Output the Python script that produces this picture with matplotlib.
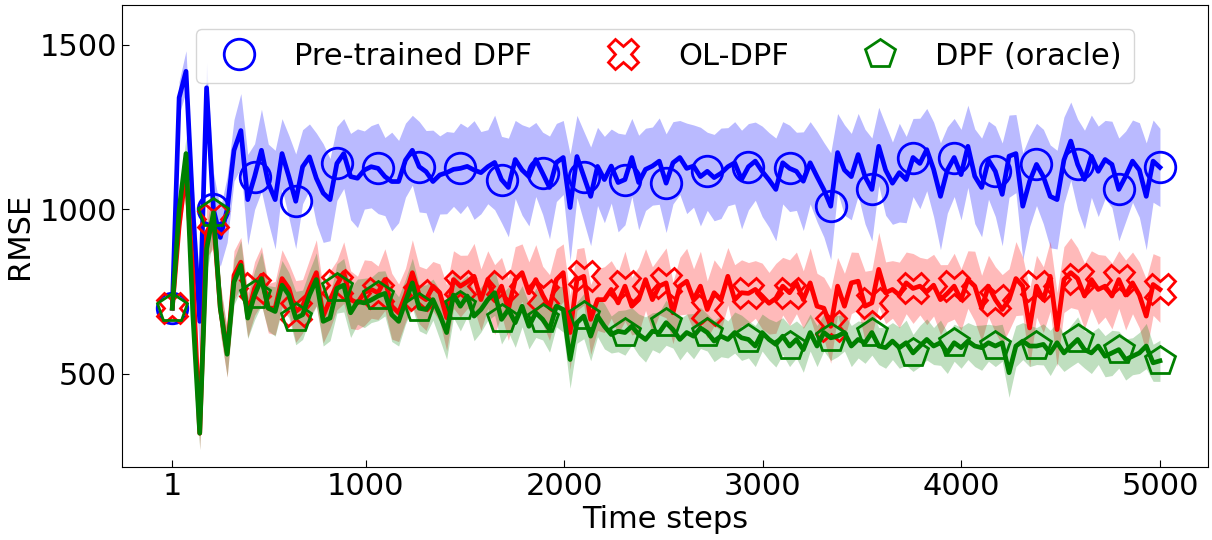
import numpy as np
import matplotlib
matplotlib.use('Agg')
import matplotlib.pyplot as plt
from matplotlib.lines import Line2D

# one logged value every ~35 steps, first point is shown as step "1"
time_steps = np.linspace(26, 5000, 145)

pretrained_mean = [
    700, 1340, 1420, 1000, 660, 1370, 1000, 915, 1000, 1180,
    1240, 1030, 1100, 1180, 1080, 1030, 1170, 1100, 1025, 1130,
    1160, 1095, 1050, 1030, 1140, 1170, 1100, 1095, 1120, 1130,
    1125, 1100, 1085, 1085, 1150, 1180, 1130, 1115, 1085, 1105,
    1112, 1122, 1125, 1131, 1120, 1112, 1130, 1143, 1091, 1067,
    1152, 1120, 1100, 1152, 1110, 1067, 1143, 1158, 1006, 1161,
    1100, 1040, 1131, 1091, 1132, 1082, 1091, 1158, 1082, 1122,
    1132, 1147, 1080, 1142, 1158, 1125, 1132, 1100, 1116, 1097,
    1110, 1130, 1142, 1091, 1130, 1147, 1116, 1090, 1061, 1142,
    1125, 1116, 1086, 1142, 1100, 1060, 1010, 1173, 1120, 1100,
    1167, 1100, 1061, 1192, 1120, 1080, 1112, 1091, 1158, 1140,
    1182, 1122, 1040, 1120, 1158, 1106, 1192, 1101, 1067, 1150,
    1116, 1046, 1162, 1170, 1010, 1086, 1137, 1100, 1040, 1030,
    1150, 1208, 1137, 1091, 1162, 1116, 1152, 1137, 1061, 1101,
    1147, 1120, 1040, 1147, 1128,
]
pretrained_err = [
    10, 40, 50, 70, 90, 60, 90, 70, 80, 75,
    90, 110, 80, 100, 95, 120, 85, 100, 115, 90,
    80, 110, 120, 100, 90, 85, 105, 120, 95, 100,
    110, 95, 120, 100, 90, 85, 110, 100, 125, 95,
    100, 90, 110, 95, 120, 100, 90, 115, 105, 120,
    95, 110, 120, 90, 100, 125, 95, 90, 130, 100,
    110, 120, 95, 105, 90, 120, 110, 95, 115, 100,
    95, 105, 120, 100, 90, 110, 100, 120, 95, 105,
    110, 95, 100, 120, 105, 95, 110, 115, 125, 100,
    105, 95, 120, 100, 110, 115, 130, 95, 110, 105,
    100, 115, 125, 95, 110, 100, 120, 105, 95, 110,
    100, 115, 130, 105, 95, 110, 100, 115, 120, 95,
    110, 125, 100, 95, 130, 110, 100, 115, 125, 120,
    105, 95, 110, 120, 100, 110, 95, 105, 125, 110,
    100, 115, 130, 100, 95,
]

ol_mean = [
    700, 950, 1120, 800, 320, 930, 970, 700, 565, 800,
    840, 680, 760, 800, 700, 700, 790, 760, 690, 706,
    760, 808, 676, 726, 770, 808, 726, 716, 747, 757,
    747, 787, 706, 686, 740, 808, 740, 726, 767, 747,
    671, 787, 767, 780, 797, 726, 787, 726, 767, 696,
    787, 808, 747, 787, 740, 702, 787, 808, 626, 787,
    797, 666, 726, 726, 757, 716, 767, 706, 726, 787,
    726, 767, 777, 686, 767, 782, 726, 767, 696, 747,
    726, 797, 726, 747, 745, 757, 737, 715, 730, 767,
    747, 777, 726, 777, 706, 700, 645, 767, 706, 777,
    782, 706, 716, 818, 747, 757, 740, 777, 760, 767,
    750, 770, 726, 745, 767, 726, 787, 767, 700, 767,
    726, 696, 726, 790, 767, 640, 767, 726, 797, 635,
    787, 808, 790, 737, 787, 757, 767, 737, 787, 740,
    777, 740, 676, 772, 757,
]
ol_err = [
    10, 30, 40, 50, 40, 60, 70, 60, 60, 60,
    60, 55, 65, 70, 60, 65, 70, 60, 75, 65,
    70, 80, 65, 70, 60, 75, 70, 65, 80, 70,
    65, 75, 80, 70, 65, 80, 70, 75, 60, 70,
    80, 70, 75, 65, 80, 75, 70, 85, 70, 75,
    80, 70, 75, 85, 70, 80, 75, 70, 90, 75,
    70, 85, 75, 80, 70, 75, 85, 70, 80, 75,
    80, 70, 85, 75, 70, 80, 75, 85, 70, 80,
    75, 70, 85, 80, 75, 70, 80, 75, 85, 70,
    80, 75, 70, 85, 80, 75, 90, 70, 80, 75,
    70, 85, 80, 90, 75, 70, 80, 75, 85, 70,
    80, 75, 85, 70, 80, 75, 70, 85, 80, 75,
    80, 85, 75, 90, 70, 95, 75, 80, 85, 90,
    80, 85, 75, 80, 70, 85, 75, 80, 70, 85,
    75, 80, 90, 75, 80,
]

oracle_mean = [
    700, 1000, 1170, 680, 320, 880, 990, 700, 560, 780,
    830, 670, 740, 790, 700, 690, 770, 740, 670, 680,
    740, 787, 660, 670, 760, 770, 686, 720, 716, 725,
    737, 745, 680, 660, 720, 777, 700, 696, 726, 680,
    626, 740, 706, 737, 676, 696, 726, 747, 666, 696,
    656, 706, 645, 686, 666, 635, 706, 696, 544, 656,
    676, 615, 676, 645, 620, 630, 626, 645, 620, 605,
    630, 626, 656, 635, 605, 626, 615, 640, 626, 600,
    615, 605, 626, 610, 605, 585, 626, 605, 590, 615,
    585, 605, 574, 626, 585, 626, 610, 615, 626, 585,
    605, 595, 626, 585, 580, 600, 580, 595, 564, 585,
    605, 585, 595, 564, 595, 580, 600, 585, 580, 595,
    585, 595, 504, 585, 600, 585, 585, 590, 564, 595,
    564, 585, 605, 574, 564, 585, 554, 564, 574, 544,
    554, 564, 585, 534, 540,
]
oracle_err = [
    10, 30, 40, 50, 40, 55, 65, 55, 55, 55,
    60, 50, 60, 65, 55, 60, 60, 55, 65, 60,
    60, 65, 60, 55, 60, 65, 60, 55, 60, 55,
    60, 55, 65, 60, 55, 60, 55, 60, 50, 60,
    65, 55, 60, 50, 60, 55, 50, 55, 60, 55,
    60, 50, 55, 60, 50, 55, 50, 55, 70, 50,
    55, 60, 50, 55, 45, 50, 55, 45, 50, 55,
    45, 50, 55, 45, 50, 45, 55, 50, 45, 50,
    50, 45, 50, 55, 45, 50, 45, 50, 55, 45,
    50, 45, 55, 45, 50, 45, 55, 50, 45, 50,
    45, 50, 55, 45, 50, 45, 50, 55, 45, 50,
    50, 45, 55, 50, 45, 50, 45, 50, 55, 45,
    50, 45, 60, 50, 45, 50, 45, 50, 55, 50,
    45, 50, 55, 45, 50, 45, 50, 55, 45, 50,
    45, 50, 55, 45, 50,
]

x_ticks = [26, 1000, 2000, 3000, 4000, 5000]
x_tick_labels = ['1', '1000', '2000', '3000', '4000', '5000']
y_ticks = [500, 1000, 1500]

# shaded region is mean +/- 1.25 std
band_scale = 1.25

series = [
    ('Pre-trained DPF', pretrained_mean, pretrained_err, 'blue', 'o', 0.27),
    ('OL-DPF', ol_mean, ol_err, 'red', 'X', 0.27),
    ('DPF (oracle)', oracle_mean, oracle_err, 'green', 'p', 0.25),
]

plt.rcParams['font.size'] = 22

fig = plt.figure(figsize=(12.12, 5.4), dpi=100)
ax = fig.add_axes([0.1007, 0.135, 0.896, 0.856])

handles = []
for name, mean, err, color, marker, alpha in series:
    mean = np.array(mean, dtype=float)
    err = np.array(err, dtype=float) * band_scale
    ax.fill_between(time_steps, mean - err, mean + err, color=color,
                    alpha=alpha, linewidth=0)
    ax.plot(time_steps, mean, color=color, linewidth=3.4, marker=marker,
            markersize=22, markerfacecolor='none', markeredgewidth=2,
            markevery=6)
    handles.append(Line2D([], [], linestyle='none', marker=marker,
                          markersize=22, markerfacecolor='none',
                          markeredgecolor=color, markeredgewidth=2,
                          label=name))

ax.set_xlim(-227, 5242)
ax.set_ylim(217, 1622)
ax.set_xticks(x_ticks)
ax.set_xticklabels(x_tick_labels)
ax.set_yticks(y_ticks)
ax.tick_params(direction='in', length=5, labelsize=22)
ax.set_xlabel('Time steps', fontsize=22, labelpad=3)
ax.set_ylabel('RMSE', fontsize=22)

ax.legend(handles=handles, loc='upper center', ncol=3, fontsize=22,
          bbox_to_anchor=(0.5, 0.98))

fig.savefig('out.png', dpi=100)
